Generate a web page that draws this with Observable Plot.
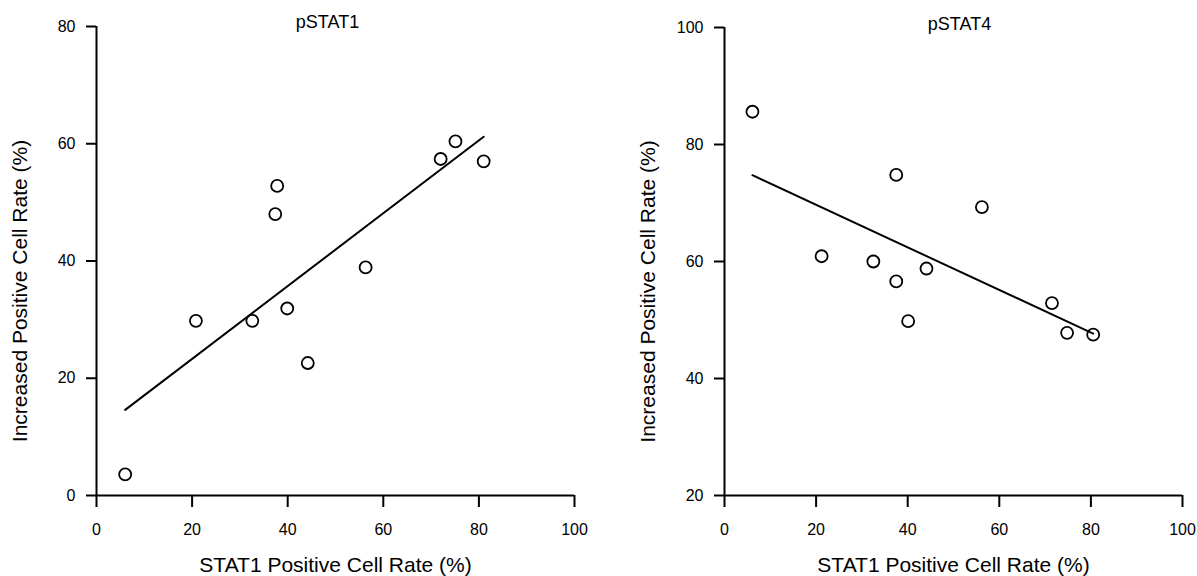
<!DOCTYPE html>
<html>
<head>
<meta charset="utf-8">
<script src="https://cdn.jsdelivr.net/npm/d3@7"></script>
<script src="https://cdn.jsdelivr.net/npm/@observablehq/plot@0.6"></script>
<style>
  html, body { margin: 0; padding: 0; background: #fff; }
  #wrap { display: flex; width: 1197px; height: 576px; overflow: hidden; }
  #wrap svg { display: block; flex: none; }
</style>
</head>
<body>
<div id="wrap"></div>
<script>
// STAT1 positive cell rate (%) for each sample
const stat1X_p1 = [6.0, 20.8, 32.6, 37.4, 37.8, 39.9, 44.2, 56.3, 72.0, 75.1, 81.0];
const pstat1Y   = [3.6, 29.8, 29.8, 48.0, 52.8, 31.9, 22.6, 38.9, 57.4, 60.4, 57.0];
const stat1X_p4 = [6.1, 21.2, 32.5, 37.5, 37.5, 40.1, 44.1, 56.2, 71.5, 74.8, 80.5];
const pstat4Y   = [85.6, 60.9, 60.0, 74.8, 56.6, 49.8, 58.8, 69.3, 52.9, 47.8, 47.5];

const xTicks  = [0, 20, 40, 60, 80, 100];
const yTicks1 = [0, 20, 40, 60, 80];
const yTicks4 = [20, 40, 60, 80, 100];
const panelTitles = ["pSTAT1", "pSTAT4"];
const xLabel = "STAT1 Positive Cell Rate (%)";
const yLabel = "Increased Positive Cell Rate (%)";

const FONT = "'Liberation Sans', Arial, Helvetica, sans-serif";

function panel({xs, ys, yDomain, yTicks, title, width, marginLeft, marginRight, marginTop, titleDx, titleDy}) {
  const data = xs.map((x, i) => ({x, y: ys[i]}));
  return Plot.plot({
    width,
    height: 576,
    marginLeft,
    marginRight,
    marginTop,
    marginBottom: 81,
    style: {fontFamily: FONT, color: "#000", background: "#fff", overflow: "visible"},
    x: {domain: [0, 100]},
    y: {domain: yDomain},
    marks: [
      Plot.axisX({ticks: xTicks, tickSize: 12, tickPadding: 16, fontSize: 16, strokeWidth: 2, label: null}),
      Plot.axisY({ticks: yTicks, tickSize: 10, tickPadding: 11, fontSize: 16, strokeWidth: 2, label: null}),
      Plot.ruleX([0], {stroke: "#000", strokeWidth: 2}),
      Plot.ruleY([yDomain[0]], {stroke: "#000", strokeWidth: 2}),
      Plot.linearRegressionY(data, {x: "x", y: "y", ci: 0, stroke: "#000", strokeWidth: 2}),
      Plot.dot(data, {x: "x", y: "y", r: 6, stroke: "#000", strokeWidth: 1.8, fill: "none"}),
      Plot.text([title], {frameAnchor: "top", dx: titleDx, dy: titleDy, lineAnchor: "middle", fontSize: 18, fill: "#000"}),
      Plot.text([xLabel], {frameAnchor: "bottom", dy: 76, lineAnchor: "bottom", fontSize: 21, fill: "#000"}),
      Plot.text([yLabel], {frameAnchor: "left", dx: -76, dy: 30, rotate: -90, textAnchor: "middle", lineAnchor: "middle", fontSize: 21, fill: "#000"})
    ]
  });
}

const wrap = document.getElementById("wrap");
wrap.append(panel({
  xs: stat1X_p1, ys: pstat1Y, yDomain: [0, 80], yTicks: yTicks1, title: panelTitles[0],
  width: 600, marginLeft: 96, marginRight: 26, marginTop: 26, titleDx: -8, titleDy: -4
}));
wrap.append(panel({
  xs: stat1X_p4, ys: pstat4Y, yDomain: [20, 100], yTicks: yTicks4, title: panelTitles[1],
  width: 597, marginLeft: 124, marginRight: 15, marginTop: 27, titleDx: 6, titleDy: -3
}));
</script>
</body>
</html>
